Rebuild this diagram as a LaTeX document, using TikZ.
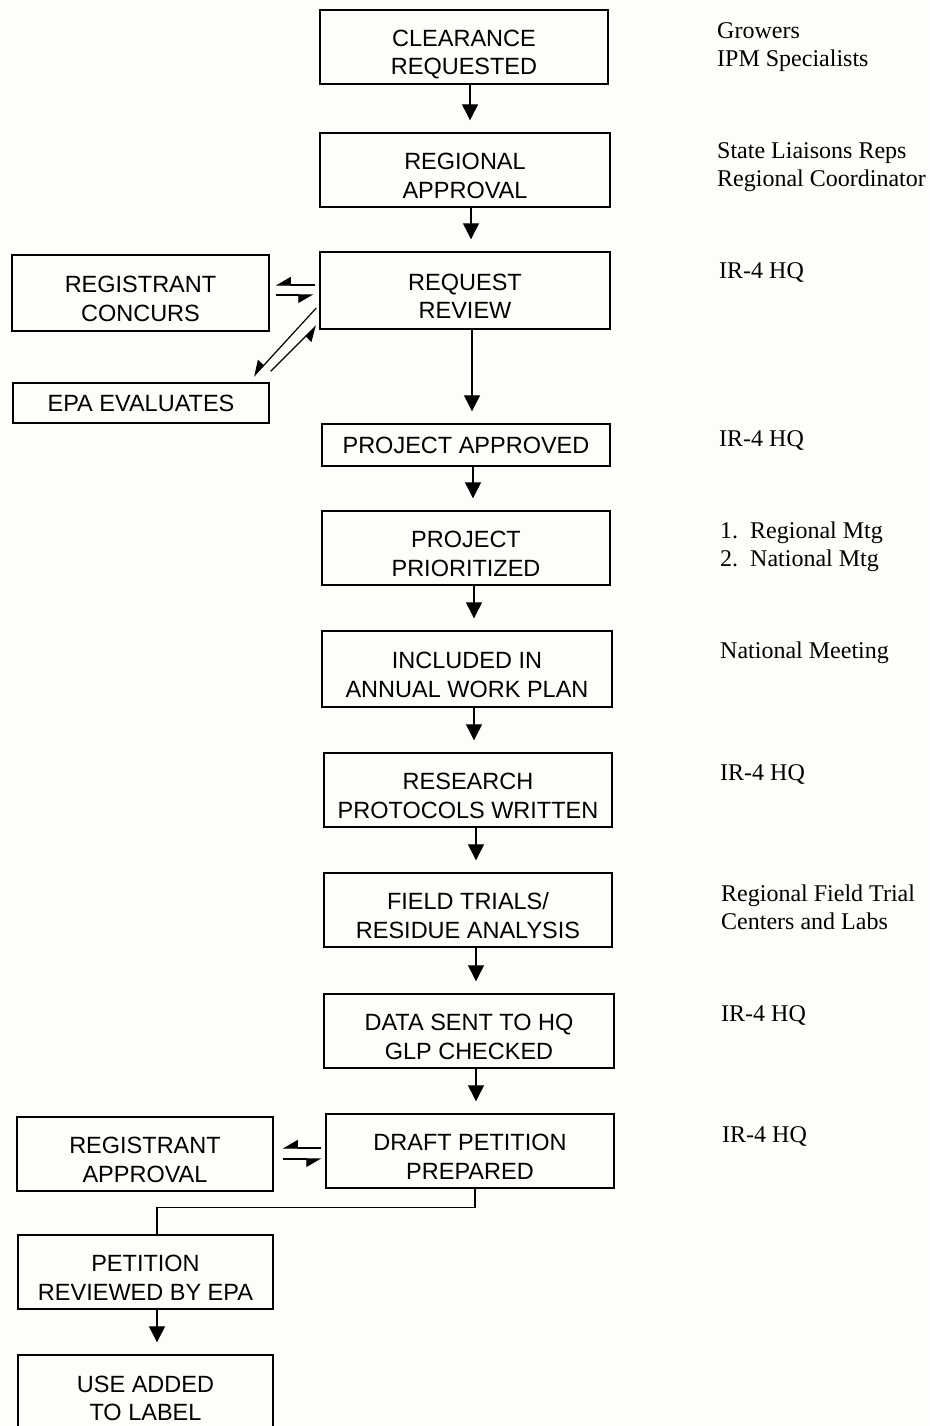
\documentclass[tikz,border=0pt]{standalone}
\usepackage{fontspec}
\setmainfont{Liberation Serif}
\newfontfamily\boxfont{Liberation Sans}
\usetikzlibrary{arrows.meta,calc}
\definecolor{paper}{RGB}{253,253,249}
\tikzset{
 box/.style={draw, line width=1.4pt, align=center, font=\boxfont\fontsize{23.5}{28.5}\selectfont, inner sep=0pt, text height=56pt, text depth=0pt},
 onebox/.style={box, text height=17pt, text depth=0pt},
 who/.style={anchor=west, align=left, inner sep=0pt, font=\fontsize{24}{28}\selectfont},
 flow/.style={line width=1.2pt, -{Triangle[width=16pt,length=16pt]}, shorten >=12pt},
 half/.style={line width=1.2pt, -{Triangle[harpoon,swap,width=16pt,length=14pt]}},
 link/.style={line width=1.2pt}
}
\begin{document}
\begin{tikzpicture}[x=1pt,y=-1pt]
\fill[paper] (0,0) rectangle (929,1426);
\useasboundingbox (0,0) rectangle (929,1426);
\clip (0,0) rectangle (929,1426);
% boxes
\node[box, minimum width=288pt, minimum height=74pt] (clr) at (464,47) {CLEARANCE\\REQUESTED};
\node[box, minimum width=290pt, minimum height=74pt] (reg) at (465,170) {REGIONAL\\APPROVAL};
\node[box, minimum width=290pt, minimum height=77pt] (rr) at (465,290.5) {REQUEST\\REVIEW};
\node[box, minimum width=257pt, minimum height=76pt] (rc) at (140.5,293) {REGISTRANT\\CONCURS};
\node[onebox, minimum width=256pt, minimum height=40pt] (ep) at (141,403) {EPA EVALUATES};
\node[onebox, minimum width=288pt, minimum height=42pt] (pa) at (466,445) {PROJECT APPROVED};
\node[box, minimum width=288pt, minimum height=74pt] (pp) at (466,548) {PROJECT\\PRIORITIZED};
\node[box, minimum width=290pt, minimum height=76pt] (aw) at (467,669) {INCLUDED IN\\ANNUAL WORK PLAN};
\node[box, minimum width=288pt, minimum height=74pt] (rp) at (468,790) {RESEARCH\\PROTOCOLS WRITTEN};
\node[box, minimum width=288pt, minimum height=74pt] (ft) at (468,910) {FIELD TRIALS/\\RESIDUE ANALYSIS};
\node[box, minimum width=290pt, minimum height=74pt] (ds) at (469,1031) {DATA SENT TO HQ\\GLP CHECKED};
\node[box, minimum width=288pt, minimum height=74pt] (dp) at (470,1151) {DRAFT PETITION\\PREPARED};
\node[box, minimum width=256pt, minimum height=74pt] (ra) at (145,1154) {REGISTRANT\\APPROVAL};
\node[box, minimum width=255pt, minimum height=74pt] (pr) at (145.5,1272) {PETITION\\REVIEWED BY EPA};
\node[box, minimum width=255pt, minimum height=84pt, text height=47pt] (use) at (145.5,1397) {USE ADDED\\TO LABEL};
% right-hand labels
\node[who] (w1) at (717,47) {Growers\\IPM Specialists};
\node[who] (w2) at (717,167) {State Liaisons Reps\\Regional Coordinator};
\node[who] (w3) at (719,272) {IR-4 HQ};
\node[who] (w4) at (719,440) {IR-4 HQ};
\node[who] (w5) at (720,547) {1.\ \ Regional Mtg\\2.\ \ National Mtg};
\node[who] (w6) at (720,653) {National Meeting};
\node[who] (w7) at (720,774) {IR-4 HQ};
\node[who] (w8) at (721,907) {Regional Field Trial\\Centers and Labs};
\node[who] (w9) at (721,1015) {IR-4 HQ};
\node[who] (w10) at (722,1136) {IR-4 HQ};
% main flow
\draw[flow] ([xshift=6pt]clr.south) -- ([xshift=6pt]clr.south |- reg.north);
\draw[flow] ([xshift=6pt]reg.south) -- ([xshift=6pt]reg.south |- rr.north);
\draw[flow] ([xshift=7pt]rr.south) -- ([xshift=7pt]rr.south |- pa.north);
\draw[flow] ([xshift=7pt]pa.south) -- ([xshift=7pt]pa.south |- pp.north);
\draw[flow] ([xshift=8pt]pp.south) -- ([xshift=8pt]pp.south |- aw.north);
\draw[flow] ([xshift=7pt]aw.south) -- ([xshift=7pt]aw.south |- rp.north);
\draw[flow] ([xshift=8pt]rp.south) -- ([xshift=8pt]rp.south |- ft.north);
\draw[flow] ([xshift=8pt]ft.south) -- ([xshift=8pt]ft.south |- ds.north);
\draw[flow] ([xshift=7pt]ds.south) -- ([xshift=7pt]ds.south |- dp.north);
\draw[link] ([xshift=5pt]dp.south) |- ($([xshift=11.5pt]pr.north)+(0,-27)$) -- ([xshift=11.5pt]pr.north);
\draw[flow] ([xshift=11.5pt]pr.south) -- ([xshift=11.5pt]pr.south |- use.north);
% side exchanges
\draw[half] ($(rr.west)+(-4,-5.5)$) -- ($(rc.east)+(6,-8)$);
\draw[half] ($(rc.east)+(6,2)$) -- ($(rr.west)+(-6,4.5)$);
\draw[half] ($(rr.west)+(-3,17.5)$) -- ($(ep.north east)+(-16,-6)$);
\draw[half] ($(ep.north east)+(1,-11)$) -- ($(rr.south west)+(-3,-4)$);
\draw[half] ($(dp.west)+(-4,-3)$) -- ($(ra.east)+(9,-6)$);
\draw[half] ($(ra.east)+(9,5)$) -- ($(dp.west)+(-4,8)$);
\end{tikzpicture}
\end{document}
